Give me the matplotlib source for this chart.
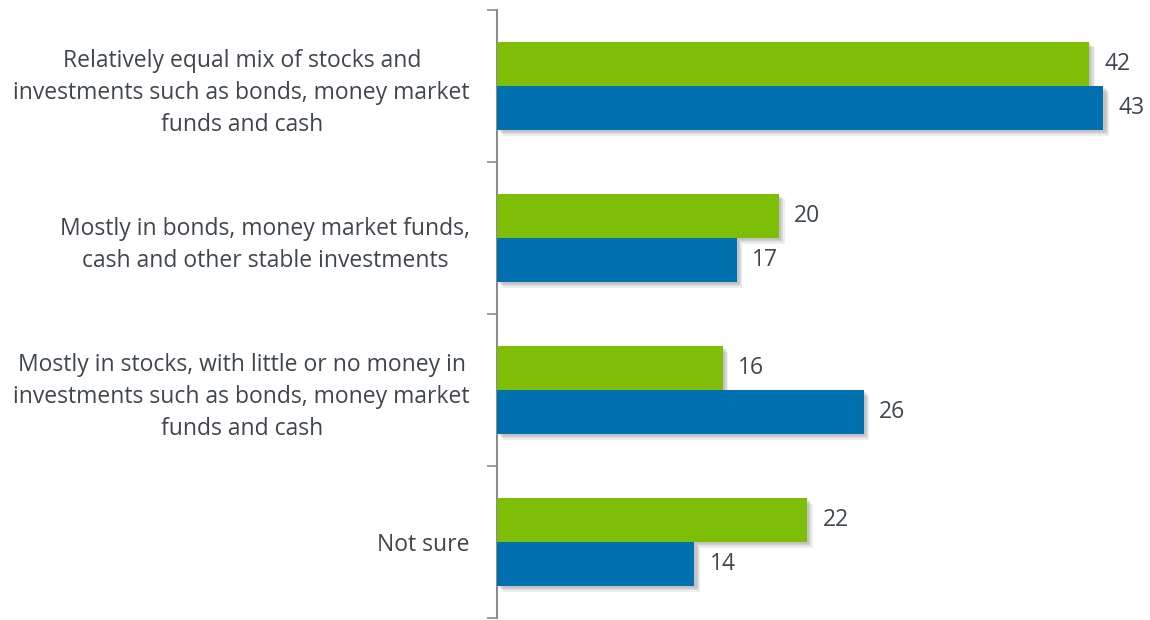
import numpy as np
import matplotlib
matplotlib.use("Agg")
import matplotlib.pyplot as plt
import matplotlib.patheffects as pe

categories = [
    "Relatively equal mix of stocks and\ninvestments such as bonds, money market\nfunds and cash",
    "Mostly in bonds, money market funds,\ncash and other stable investments",
    "Mostly in stocks, with little or no money in\ninvestments such as bonds, money market\nfunds and cash",
    "Not sure",
]
green_vals = [42, 20, 16, 22]
blue_vals = [43, 17, 26, 14]

GREEN = "#7fbe07"
BLUE = "#0071ae"
TEXT = "#3f4650"

plt.rcParams["font.family"] = ["Open Sans", "DejaVu Sans"]

fig = plt.figure(figsize=(11.5, 6.2), dpi=100)
ax = fig.add_axes([0.4322, 0.003, 0.5678, 0.981])

y = np.arange(len(categories))
h = 0.29
# soft drop shadow: a few stacked faint offsets
shadow = [pe.SimplePatchShadow(offset=(o, -o), shadow_rgbFace="#444444", alpha=0.09)
          for o in (4, 3, 2.2, 1.5)] + [pe.Normal()]

gb = ax.barh(y - h / 2, green_vals, height=h, color=GREEN, path_effects=shadow, zorder=3)
bb = ax.barh(y + h / 2, blue_vals, height=h, color=BLUE, path_effects=shadow, zorder=3)

for bars, vals in [(gb, green_vals), (bb, blue_vals)]:
    for b, v in zip(bars, vals):
        ax.annotate(str(v), (b.get_width(), b.get_y() + b.get_height() / 2),
                    xytext=(11, 0), textcoords="offset points",
                    va="center", ha="left", fontsize=16.5, color=TEXT)

ax.set_xlim(0, 46.3)
ax.set_ylim(len(categories) - 0.5, -0.5)

ax.set_yticks(y)
ax.set_yticklabels(categories, fontsize=16.5, color=TEXT, multialignment="center", linespacing=1.44)
ax.tick_params(axis="y", which="major", length=0, pad=19.5)
ax.set_yticks(np.arange(len(categories) + 1) - 0.5, minor=True)
ax.tick_params(axis="y", which="minor", length=7, width=1.2, color="#8c8c8c")
ax.set_xticks([])

for s in ["top", "right", "bottom"]:
    ax.spines[s].set_visible(False)
ax.spines["left"].set_color("#8c8c8c")
ax.spines["left"].set_linewidth(1.5)

fig.savefig("out.png", dpi=100)
